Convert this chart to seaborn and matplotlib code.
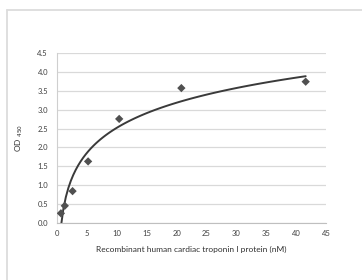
import matplotlib
matplotlib.use("Agg")
import matplotlib.pyplot as plt
from matplotlib.lines import Line2D
import seaborn as sns
import pandas as pd

# Recombinant human cardiac troponin I protein (nM) vs OD450
conc_nm = [0.65, 1.3, 2.6, 5.2, 10.4, 20.8, 41.6]
od_450 = [0.25, 0.45, 0.84, 1.63, 2.76, 3.58, 3.75]
x_ticks = [0, 5, 10, 15, 20, 25, 30, 35, 40, 45]
y_ticks = [0.0, 0.5, 1.0, 1.5, 2.0, 2.5, 3.0, 3.5, 4.0, 4.5]

df = pd.DataFrame({"conc": conc_nm, "od": od_450})

sns.set_style("white")
plt.rcParams["font.family"] = ["Lato", "DejaVu Sans"]

fig = plt.figure(figsize=(3.62, 2.8), dpi=100)
ax = fig.add_axes([0.1575, 0.2046, 0.7431, 0.6044])

# logarithmic trend line plus the measured points
sns.regplot(data=df, x="conc", y="od", logx=True, ci=None, ax=ax,
            scatter=False, line_kws={"color": "#3a3a3a", "lw": 1.4})
sns.scatterplot(data=df, x="conc", y="od", ax=ax, marker="D", s=18,
                color="#505050", edgecolor="none", zorder=3)

ax.set_xlim(0, 45)
ax.set_ylim(0, 4.5)
ax.set_xticks(x_ticks)
ax.set_yticks(y_ticks)
ax.set_xticklabels([str(t) for t in x_ticks])
ax.set_yticklabels([f"{t:.1f}" for t in y_ticks])
ax.yaxis.grid(True, color="#d9d9d9", lw=0.9)
ax.set_axisbelow(True)
for side in ["top", "right"]:
    ax.spines[side].set_visible(False)
ax.spines["left"].set_color("#cfcfcf")
ax.spines["bottom"].set_color("#bfbfbf")
ax.tick_params(axis="both", labelsize=5.5, colors="#bfbfbf", labelcolor="#404040",
               length=2.5, width=0.8, direction="out", pad=3)
ax.tick_params(axis="y", pad=4)

ax.set_xlabel("Recombinant human cardiac troponin I protein (nM)", fontsize=6,
              color="#303030", labelpad=6)
ax.set_ylabel("OD $_{450}$", fontsize=6, color="#303030", labelpad=9)

# light frame on the left and top of the picture
fig.add_artist(Line2D([7 / 362, 7 / 362], [0, 1 - 10 / 280], transform=fig.transFigure,
                      color="#dcdcdc", lw=1.3))
fig.add_artist(Line2D([7 / 362, 1], [1 - 10 / 280, 1 - 10 / 280], transform=fig.transFigure,
                      color="#dcdcdc", lw=1.3))

fig.savefig("out.png", dpi=100)
